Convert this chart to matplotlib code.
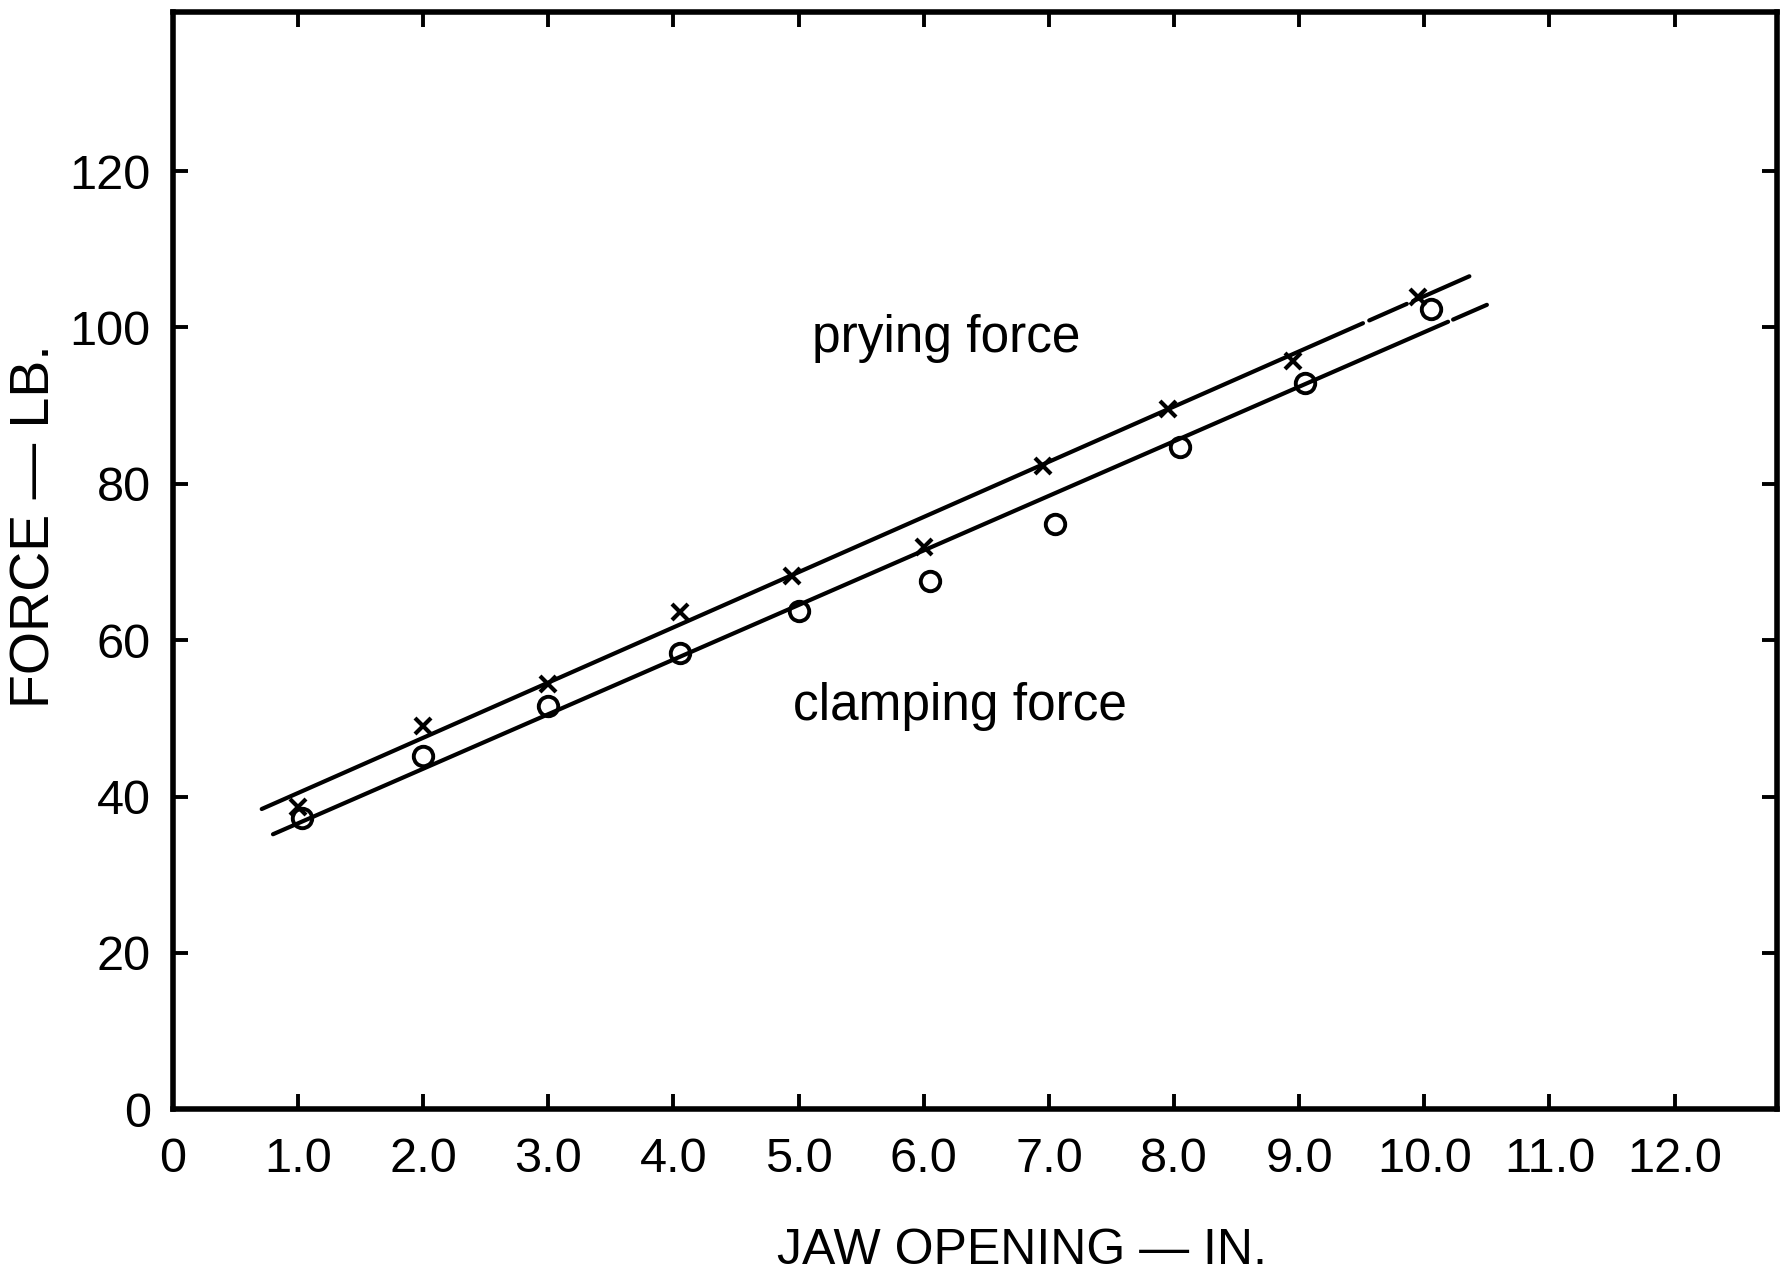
import numpy as np
import matplotlib
matplotlib.use('Agg')
import matplotlib.pyplot as plt

plt.rcParams['font.family'] = ['Liberation Sans', 'DejaVu Sans']

# measured points, jaw opening (in.) vs force (lb.)
prying_x = [1.0, 2.0, 3.0, 4.05, 4.95, 6.0, 6.95, 7.95, 8.95, 9.95]
prying_y = [38.7, 49.0, 54.4, 63.6, 68.2, 71.9, 82.3, 89.6, 95.7, 103.9]
clamping_x = [1.03, 2.0, 3.0, 4.05, 5.0, 6.05, 7.05, 8.05, 9.05, 10.05]
clamping_y = [37.2, 45.2, 51.6, 58.3, 63.7, 67.6, 74.9, 84.7, 92.9, 102.3]

# straight-line fits (slope, intercept) and the drawn pieces of each line
prying_fit = (7.06, 33.4)
clamping_fit = (6.98, 29.6)
prying_pieces = [(0.71, 9.51), (9.56, 9.86), (9.91, 10.36)]
clamping_pieces = [(0.80, 10.19), (10.23, 10.50)]

xticks = [0, 1, 2, 3, 4, 5, 6, 7, 8, 9, 10, 11, 12]
xtick_labels = ['0', '1.0', '2.0', '3.0', '4.0', '5.0', '6.0', '7.0', '8.0',
                '9.0', '10.0', '11.0', '12.0']
yticks = [0, 20, 40, 60, 80, 100, 120]

fig = plt.figure(figsize=(17.84, 12.8), dpi=100)
ax = fig.add_axes([0.0969, 0.1333, 0.8993, 0.8577])

for fit, pieces in [(prying_fit, prying_pieces), (clamping_fit, clamping_pieces)]:
    for x0, x1 in pieces:
        xs = np.array([x0, x1])
        ax.plot(xs, fit[0] * xs + fit[1], color='black', lw=3.0,
                solid_capstyle='round')

ax.plot(prying_x, prying_y, ls='none', marker='x', ms=11, mew=3.0, color='black')
ax.plot(clamping_x, clamping_y, ls='none', marker='o', ms=14, mew=2.8,
        mfc='none', mec='black')

ax.text(6.18, 98.6, 'prying force', fontsize=37, ha='center', va='center')
ax.text(6.29, 51.5, 'clamping force', fontsize=37, ha='center', va='center')

ax.set_xlim(0, 12.82)
ax.set_ylim(0, 140.4)
ax.set_xticks(xticks)
ax.set_xticklabels(xtick_labels)
ax.set_yticks(yticks)

for side in ax.spines.values():
    side.set_linewidth(4.0)

ax.tick_params(axis='both', direction='in', length=11, width=2.8,
               top=True, right=True, labelsize=35)
ax.tick_params(axis='x', pad=20)
ax.tick_params(axis='y', pad=16)

fig.text(0.020, 0.589, 'FORCE — LB.', rotation=90, fontsize=40,
         ha='center', va='center')
fig.text(0.573, 0.023, 'JAW OPENING — IN.', fontsize=36,
         ha='center', va='center')

fig.savefig('out.png', dpi=100, facecolor='white')
